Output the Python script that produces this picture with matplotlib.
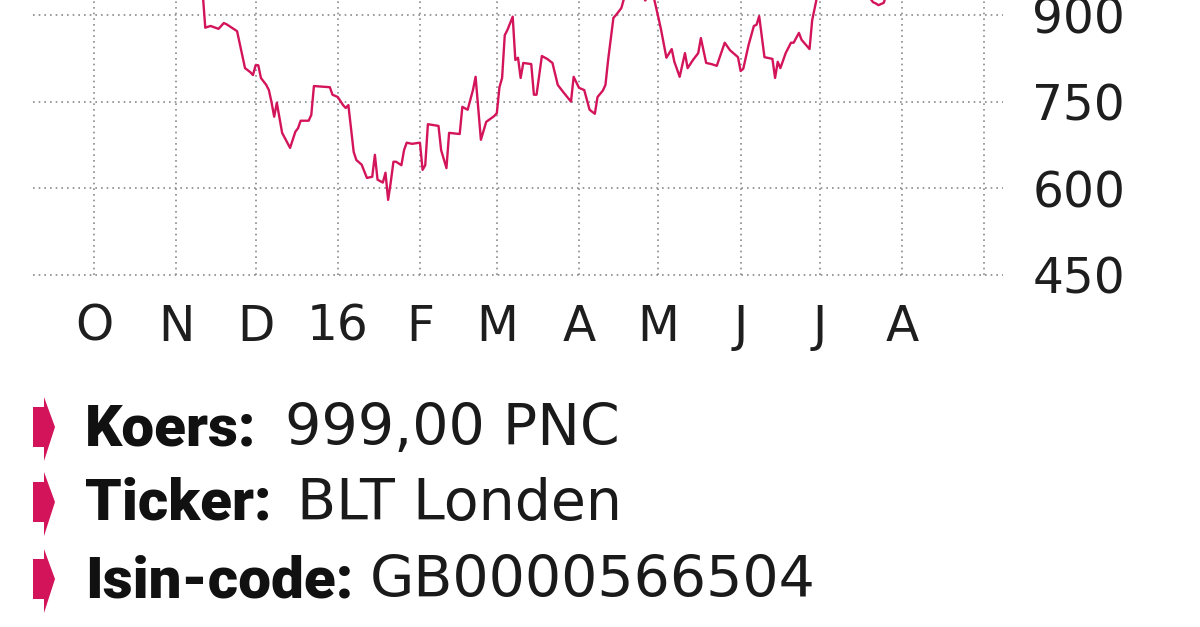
import numpy as np
import pandas as pd
import matplotlib
matplotlib.use('Agg')
import matplotlib.pyplot as plt
from matplotlib.patches import Polygon

# koers BLT Londen (pence), part above ~926 is cut off in the picture
dates = [
  '2015-09-08', '2015-09-11', '2015-09-15', '2015-09-18', '2015-09-22', '2015-09-25',
  '2015-09-29', '2015-10-02', '2015-10-06', '2015-10-09', '2015-10-13', '2015-10-16',
  '2015-10-20', '2015-10-23', '2015-10-27', '2015-10-30', '2015-11-03', '2015-11-06',
  '2015-11-09', '2015-11-11', '2015-11-12', '2015-11-14', '2015-11-17', '2015-11-19',
  '2015-11-20', '2015-11-22', '2015-11-24', '2015-11-27', '2015-11-29', '2015-11-30',
  '2015-12-01', '2015-12-02', '2015-12-03', '2015-12-05', '2015-12-06', '2015-12-07',
  '2015-12-08', '2015-12-09', '2015-12-11', '2015-12-14', '2015-12-16', '2015-12-17',
  '2015-12-18', '2015-12-21', '2015-12-22', '2015-12-23', '2015-12-29', '2015-12-30',
  '2016-01-01', '2016-01-03', '2016-01-04', '2016-01-05', '2016-01-07', '2016-01-08',
  '2016-01-10', '2016-01-12', '2016-01-14', '2016-01-15', '2016-01-16', '2016-01-18',
  '2016-01-19', '2016-01-20', '2016-01-21', '2016-01-22', '2016-01-23', '2016-01-25',
  '2016-01-26', '2016-01-27', '2016-01-29', '2016-02-01', '2016-02-02', '2016-02-03',
  '2016-02-04', '2016-02-08', '2016-02-09', '2016-02-11', '2016-02-12', '2016-02-16',
  '2016-02-17', '2016-02-19', '2016-02-21', '2016-02-22', '2016-02-24', '2016-02-26',
  '2016-02-29', '2016-03-01', '2016-03-02', '2016-03-03', '2016-03-04', '2016-03-05',
  '2016-03-07', '2016-03-08', '2016-03-09', '2016-03-10', '2016-03-11', '2016-03-14',
  '2016-03-15', '2016-03-16', '2016-03-18', '2016-03-20', '2016-03-22', '2016-03-24',
  '2016-03-26', '2016-03-29', '2016-03-30', '2016-04-01', '2016-04-03', '2016-04-05',
  '2016-04-07', '2016-04-08', '2016-04-10', '2016-04-11', '2016-04-12', '2016-04-14',
  '2016-04-15', '2016-04-17', '2016-04-19', '2016-04-21', '2016-04-23', '2016-04-25',
  '2016-04-26', '2016-04-28', '2016-04-29', '2016-05-01', '2016-05-02', '2016-05-04',
  '2016-05-06', '2016-05-07', '2016-05-09', '2016-05-11', '2016-05-12', '2016-05-14',
  '2016-05-16', '2016-05-17', '2016-05-19', '2016-05-21', '2016-05-23', '2016-05-26',
  '2016-05-28', '2016-05-31', '2016-06-01', '2016-06-02', '2016-06-04', '2016-06-06',
  '2016-06-07', '2016-06-08', '2016-06-10', '2016-06-13', '2016-06-14', '2016-06-15',
  '2016-06-16', '2016-06-18', '2016-06-20', '2016-06-21', '2016-06-23', '2016-06-24',
  '2016-06-27', '2016-06-28', '2016-06-30', '2016-07-01', '2016-07-04', '2016-07-06',
  '2016-07-08', '2016-07-11', '2016-07-13', '2016-07-15', '2016-07-18', '2016-07-19',
  '2016-07-20', '2016-07-21', '2016-07-22', '2016-07-23', '2016-07-25', '2016-07-26',
  '2016-07-28', '2016-08-01', '2016-08-04', '2016-08-08', '2016-08-11', '2016-08-15',
  '2016-08-18', '2016-08-22', '2016-08-25', '2016-08-30', '2016-09-02']
koers = [
  1110, 1085, 1060, 1070, 1030, 1010,
  1040, 1080, 1130, 1160, 1120, 1135,
  1110, 1125, 1090, 1070, 1060, 1020,
  990, 940, 878, 881, 876, 886,
  884, 878, 872, 808, 801, 796,
  813, 813, 791, 779, 770, 749,
  724, 748, 696, 670, 698, 704,
  717, 717, 727, 777, 775, 762,
  758, 744, 739, 744, 663, 649,
  641, 618, 620, 658, 615, 610,
  627, 580, 611, 646, 646, 640,
  666, 679, 677, 679, 632, 640,
  711, 708, 666, 635, 696, 694,
  741, 736, 770, 793, 684, 715,
  725, 730, 775, 791, 865, 874,
  897, 822, 826, 791, 817, 815,
  762, 762, 829, 824, 817, 779,
  767, 750, 793, 774, 770, 736,
  729, 758, 769, 779, 822, 895,
  900, 912, 945, 970, 960, 940,
  925, 940, 935, 895, 874, 826,
  841, 819, 793, 834, 808, 822,
  834, 860, 817, 815, 812, 852,
  839, 827, 803, 807, 848, 881,
  883, 898, 827, 824, 791, 819,
  808, 834, 852, 852, 869, 857,
  841, 891, 935, 950, 965, 955,
  975, 990, 1005, 985, 960, 940,
  928, 922, 920, 917, 921, 935,
  955, 945, 965, 990, 1010, 995,
  980, 970, 985, 990, 999]

month_ticks = pd.date_range('2015-10-01', '2016-09-01', freq='MS')
month_labels = ['O', 'N', 'D', '16', 'F', 'M', 'A', 'M', 'J', 'J', 'A', '']
y_ticks = [450, 600, 750, 900]

info_keys = ['Koers:', 'Ticker:', 'Isin-code:']
info_vals = ['999,00 PNC', 'BLT Londen', 'GB0000566504']

PINK = '#d3145a'
W, H = 1200, 627

fig = plt.figure(figsize=(W / 100, H / 100), dpi=100)
# axes top lies above the picture, the chart is cut off there
ax = fig.add_axes([33 / W, (H - 275) / H, 970 / W, 346.7 / H])

ax.plot(pd.to_datetime(dates), koers, color=PINK, lw=1.7, solid_joinstyle='round')

ax.set_xlim(pd.Timestamp('2015-09-08'), pd.Timestamp('2016-09-08'))
ax.set_ylim(450, 1050)
ax.set_xticks(month_ticks)
ax.set_xticklabels(month_labels)
ax.set_yticks(y_ticks)
ax.yaxis.tick_right()
ax.tick_params(length=0, labelsize=35, labelcolor='#1e1e1e')
ax.tick_params(axis='x', pad=20)
ax.tick_params(axis='y', pad=21)
for s in ax.spines.values():
  s.set_visible(False)
ax.grid(True, color='#8a8a8a', lw=1.2, linestyle=(0, (1, 2.4)))
for g in ax.get_xgridlines() + ax.get_ygridlines():
  g.set_clip_on(False)
ax.set_axisbelow(True)

def fx(x):
  return x / W

def fy(y):
  return 1 - y / H

baselines = [445, 520, 597]
val_x = [285, 297, 370]
for key, val, b, vx in zip(info_keys, info_vals, baselines, val_x):
  c = b - 18
  arrow = [(33, c - 20), (44, c - 20), (44, c - 30), (55, c), (44, c + 34),
           (44, c + 20), (33, c + 20)]
  fig.patches.append(Polygon([(fx(px), fy(py)) for px, py in arrow], closed=True,
                             transform=fig.transFigure, facecolor=PINK, edgecolor='none'))
  fig.text(fx(85), fy(b), key, family=['Roboto', 'DejaVu Sans'], fontweight=900,
           fontsize=42, color='#111111', va='baseline')
  fig.text(fx(vx), fy(b), val, family='DejaVu Sans', fontsize=41,
           color='#1a1a1a', va='baseline')

fig.savefig('out.png', dpi=100)
